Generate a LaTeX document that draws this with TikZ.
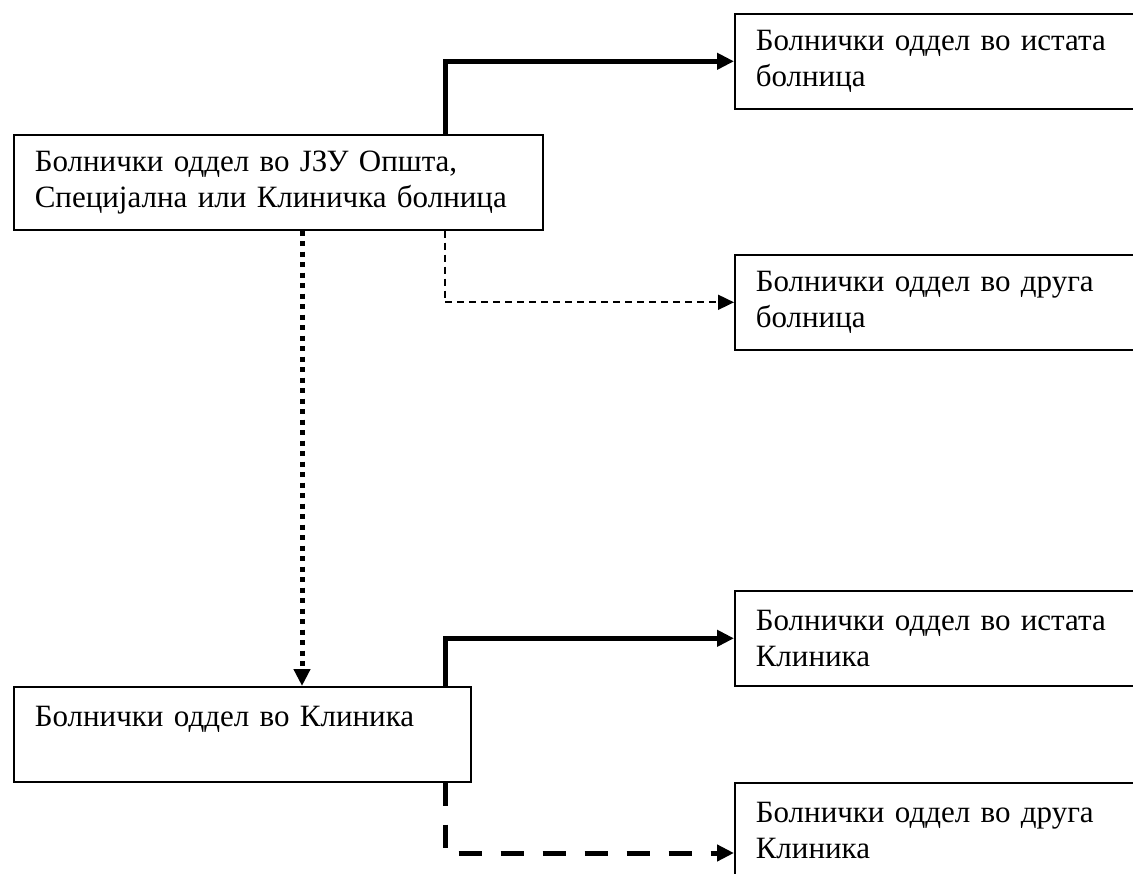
\documentclass[tikz,border=0pt]{standalone}
\usepackage{fontspec}
\setmainfont{Liberation Serif}
\usetikzlibrary{arrows.meta}
\begin{document}
\begin{tikzpicture}[x=1pt,y=-1pt,
  box/.style={draw,line width=1.6pt,anchor=north west,minimum height=95pt,
    inner xsep=21pt,inner ysep=0pt,align=left,
    font=\fontsize{31}{36}\selectfont},
  boldline/.style={line width=5pt,-{Triangle[length=17pt,width=16pt]}},
  thindash/.style={line width=1.8pt,dash pattern=on 7pt off 5pt,
    -{Triangle[length=16pt,width=15pt]}},
  bolddash/.style={line width=5pt,dash pattern=on 23pt off 19pt,
    -{Triangle[length=17pt,width=16pt]}},
  bolddot/.style={line width=5pt,dash pattern=on 5pt off 5.5pt,
    -{Triangle[length=17pt,width=16pt]}}]
\useasboundingbox (0,0) rectangle (1133,874);
\clip (0,0) rectangle (1133,874);

% source boxes on the left
\node[box,text width=487pt] (A) at (13,134)
  {Болнички оддел во ЈЗУ Општа,\\Специјална или Клиничка болница};
\node[box,text width=415pt] (C) at (13,686)
  {Болнички оддел во Клиника\\\mbox{}};

% target boxes on the right (running past the right edge)
\node[box,text width=420pt] (B1) at (734,13)
  {Болнички оддел во истата\\болница};
\node[box,text width=420pt] (B2) at (734,254)
  {Болнички оддел во друга\\болница};
\node[box,text width=420pt] (D1) at (734,590)
  {Болнички оддел во истата\\Клиника};
\node[box,text width=420pt] (D2) at (734,782)
  {Болнички оддел во друга\\Клиника};

% connectors
\coordinate (xa) at (445,0);
\coordinate (xd) at (302,0);
\coordinate (yd2) at (0,853);
\draw[boldline] (xa |- A.north) |- (B1.west);
\draw[thindash] (xa |- A.south) |- (B2.west);
\draw[bolddot] (xd |- A.south) -- (xd |- C.north);
\draw[boldline] (xa |- C.north) |- (D1.west);
\draw[bolddash] (xa |- C.south) |- (D2.west |- yd2);
\end{tikzpicture}
\end{document}
